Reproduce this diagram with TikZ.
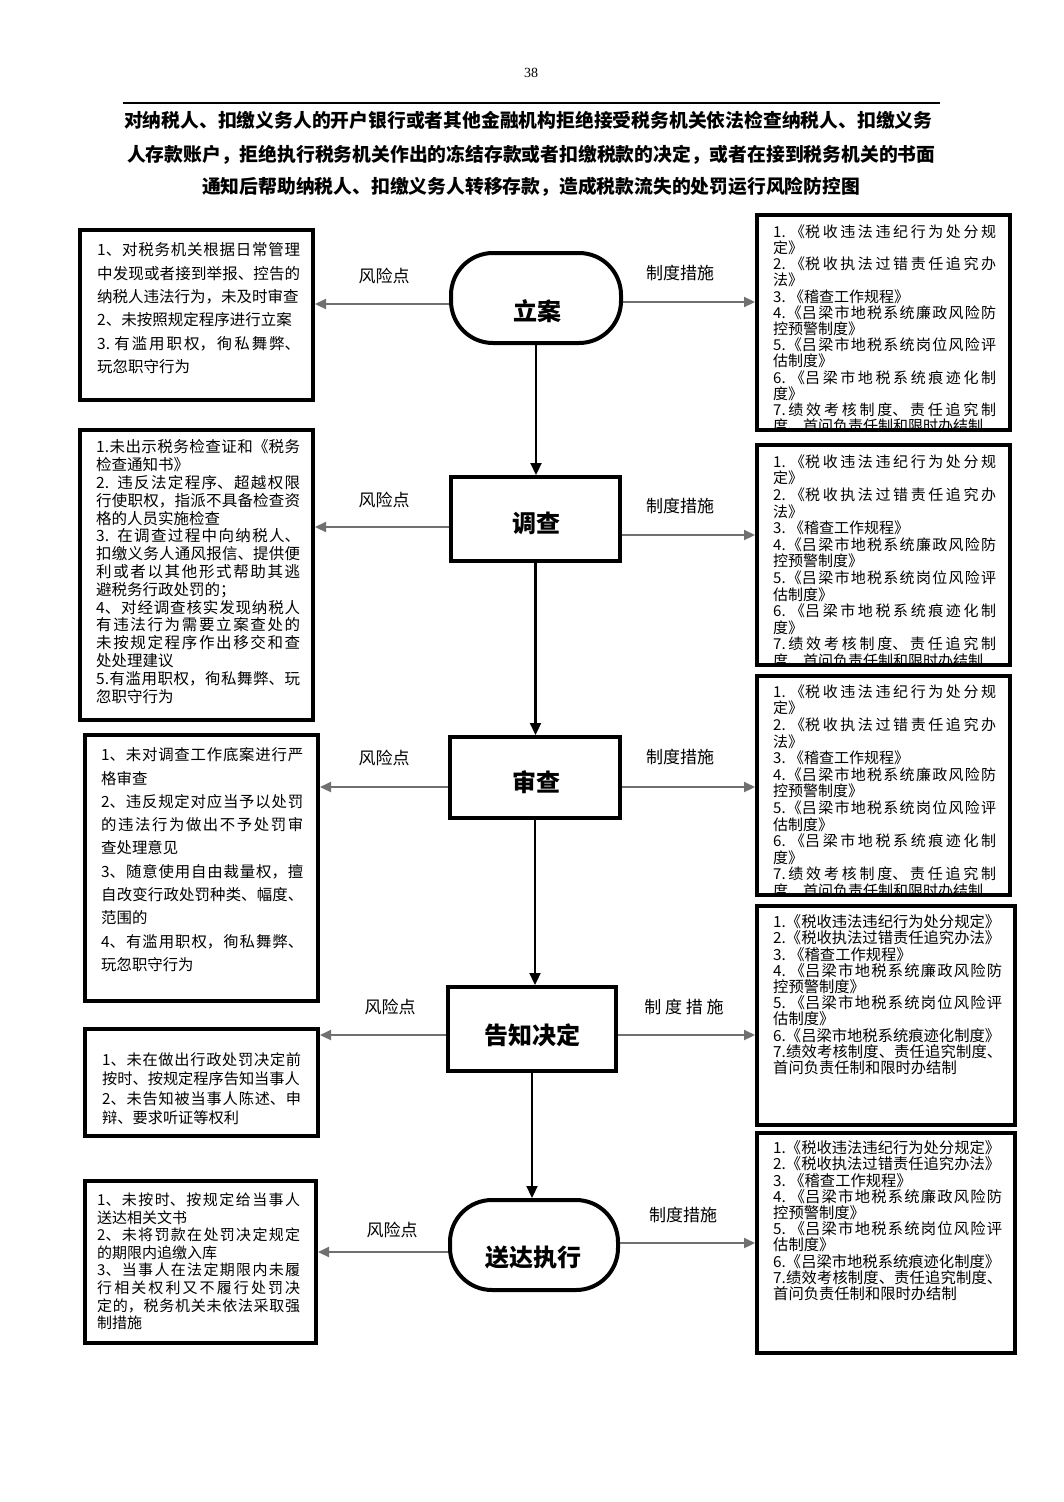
\documentclass[tikz,border=0pt]{standalone}
\usepackage{fontspec}
\setmainfont{Liberation Serif}
\newfontfamily\cjk{Noto Sans CJK SC}
\usetikzlibrary{arrows.meta}
\XeTeXlinebreaklocale "zh"
\XeTeXlinebreakskip=0pt plus 4pt minus 0.5pt
\setlength{\parindent}{0pt}
\tolerance=9000
\lineskiplimit=-20pt
\definecolor{agray}{HTML}{707070}
\begin{document}
\begin{tikzpicture}[x=1pt,y=-1pt,
  ttl/.style={inner sep=0pt,font=\cjk\bfseries\fontsize{18.8pt}{22pt}\selectfont},
  frame/.style={draw=black,line width=4pt,fill=white,inner sep=0pt,outer sep=2pt},
  stad/.style={frame,rounded corners=42pt},
  ctext/.style={inner sep=0pt,font=\cjk\bfseries\fontsize{24pt}{28pt}\selectfont},
  lab/.style={inner sep=0pt,font=\cjk\fontsize{17pt}{20pt}\selectfont},
  btext/.style={anchor=north west,inner sep=0pt,align=justify,text width=#1},
  garrow/.style={draw=agray,line width=2.2pt,-{Triangle[length=11pt,width=10pt]}},
  varrow/.style={draw=black,line width=2.2pt,-{Triangle[length=12pt,width=11pt]}}
]
\useasboundingbox[fill=white] (0,0) rectangle (1063,1502);

% header
\node[inner sep=0pt,font=\fontsize{14pt}{16pt}\selectfont] (pg) at (531,73) {38};
\coordinate (rl) at (123,103);
\coordinate (rr) at (940,103);
\draw[line width=1.6pt] (rl) -- (rr);
\node[ttl] (t1) at (531,120) {\hbox to 814pt{对纳税人、扣缴义务人的开户银行或者其他金融机构拒绝接受税务机关依法检查纳税人、扣缴义务}};
\node[ttl] (t2) at (532,155) {\hbox to 810pt{人存款账户，拒绝执行税务机关作出的冻结存款或者扣缴税款的决定，或者在接到税务机关的书面}};
\node[ttl] (t3) at (531,187) {通知后帮助纳税人、扣缴义务人转移存款，造成税款流失的处罚运行风险防控图};

% centre column
\node[stad,minimum width=170pt,minimum height=90pt] (C1) at (536,298) {};
\node[ctext] (C1t) at (537,311) {立案};
\node[frame,minimum width=169pt,minimum height=84pt] (C2) at (535.5,519) {};
\node[ctext] (C2t) at (536,523) {调查};
\node[frame,minimum width=170pt,minimum height=81pt] (C3) at (535,777.5) {};
\node[ctext] (C3t) at (536,782) {审查};
\node[frame,minimum width=168pt,minimum height=84pt] (C4) at (532,1029) {};
\node[ctext] (C4t) at (532,1035) {告知决定};
\node[stad,minimum width=168pt,minimum height=90pt] (C5) at (534,1245) {};
\node[ctext] (C5t) at (533,1257) {送达执行};

\draw[varrow] (C1.south) -- (C1.south |- C2.north);
\draw[varrow] (C2.south) -- (C2.south |- C3.north);
\draw[varrow] (C3.south) -- (C3.south |- C4.north);
\draw[varrow] (C4.south) -- (C4.south |- C5.north);

% left boxes
\node[frame,minimum width=233pt,minimum height=170pt] (L1) at (196.5,315) {};
\node[btext=203pt,font=\cjk\fontsize{15.5pt}{23.4pt}\selectfont] (L1t) at (97,242.5) {1、对税务机关根据日常管理\linebreak
中发现或者接到举报、控告的\linebreak
纳税人违法行为，未及时审查\\
2、未按照规定程序进行立案\\
3.\ 有滥用职权，徇私舞弊、\linebreak
玩忽职守行为};

\node[frame,minimum width=233pt,minimum height=290pt] (L2) at (196.5,575) {};
\node[btext=204pt,font=\cjk\fontsize{15.5pt}{17.8pt}\selectfont] (L2t) at (96,439.5) {1.未出示税务检查证和《税务\linebreak
检查通知书》\\
2.\ \ 违反法定程序、超越权限\linebreak
行使职权，指派不具备检查资\linebreak
格的人员实施检查\\
3.\ \ 在调查过程中向纳税人、\linebreak
扣缴义务人通风报信、提供便\linebreak
利或者以其他形式帮助其逃\linebreak
避税务行政处罚的；\\
4、对经调查核实发现纳税人\linebreak
有违法行为需要立案查处的\linebreak
未按规定程序作出移交和查\linebreak
处处理建议\\
5.有滥用职权，徇私舞弊、玩\linebreak
忽职守行为};

\node[frame,minimum width=233pt,minimum height=266pt] (L3) at (201.5,868) {};
\node[btext=202pt,font=\cjk\fontsize{15.4pt}{23.3pt}\selectfont] (L3t) at (101,747.5) {1、未对调查工作底案进行严\linebreak
格审查\\
2、违反规定对应当予以处罚\linebreak
的违法行为做出不予处罚审\linebreak
查处理意见\\
3、随意使用自由裁量权，擅\linebreak
自改变行政处罚种类、幅度、\linebreak
范围的\\
4、有滥用职权，徇私舞弊、\linebreak
玩忽职守行为};

\node[frame,minimum width=233pt,minimum height=107pt] (L4) at (201.5,1082.5) {};
\node[btext=199pt,font=\cjk\fontsize{15.2pt}{19.3pt}\selectfont] (L4t) at (102,1052.5) {1、未在做出行政处罚决定前\linebreak
按时、按规定程序告知当事人\\
2、未告知被当事人陈述、申\linebreak
辩、要求听证等权利};

\node[frame,minimum width=231pt,minimum height=162pt] (L5) at (200.5,1262) {};
\node[btext=203pt,font=\cjk\fontsize{15pt}{17.6pt}\selectfont] (L5t) at (97,1192.5) {1、未按时、按规定给当事人\linebreak
送达相关文书\\
2、未将罚款在处罚决定规定\linebreak
的期限内追缴入库\\
3、当事人在法定期限内未履\linebreak
行相关权利又不履行处罚决\linebreak
定的，税务机关未依法采取强\linebreak
制措施};

% right boxes
\node[frame,minimum width=253pt,minimum height=215pt] (R1) at (883.5,322.5) {};
\node[frame,minimum width=253pt,minimum height=220pt] (R2) at (883.5,555) {};
\node[frame,minimum width=253pt,minimum height=219pt] (R3) at (883.5,785.5) {};
\node[frame,minimum width=258pt,minimum height=219pt] (R4) at (886,1015.5) {};
\node[frame,minimum width=258pt,minimum height=220pt] (R5) at (886,1243) {};

\newcommand{\rulesA}{1.\ 《税收违法违纪行为处分规\linebreak
定》\\
2.\ 《税收执法过错责任追究办\linebreak
法》\\
3.\ 《稽查工作规程》\\
4.《吕梁市地税系统廉政风险防\linebreak
控预警制度》\\
5.《吕梁市地税系统岗位风险评\linebreak
估制度》\\
6.\ 《吕梁市地税系统痕迹化制\linebreak
度》\\
7.绩效考核制度、责任追究制\linebreak
度、首问负责任制和限时办结制}
\newcommand{\rulesB}{1.《税收违法违纪行为处分规定》\\
2.《税收执法过错责任追究办法》\\
3.\ 《稽查工作规程》\\
4.\ 《吕梁市地税系统廉政风险防\linebreak
控预警制度》\\
5.\ 《吕梁市地税系统岗位风险评\linebreak
估制度》\\
6.《吕梁市地税系统痕迹化制度》\\
7.绩效考核制度、责任追究制度、\linebreak
首问负责任制和限时办结制}

\begin{scope}
\clip ([xshift=4pt,yshift=-4pt]R1.north west) rectangle ([xshift=-4pt,yshift=4pt]R1.south east);
\node[btext=223pt,font=\cjk\fontsize{15pt}{16.2pt}\selectfont] (R1t) at (773,224.5) {\rulesA};
\end{scope}
\begin{scope}
\clip ([xshift=4pt,yshift=-4pt]R2.north west) rectangle ([xshift=-4pt,yshift=4pt]R2.south east);
\node[btext=223pt,font=\cjk\fontsize{15pt}{16.6pt}\selectfont] (R2t) at (773,454.5) {\rulesA};
\end{scope}
\begin{scope}
\clip ([xshift=4pt,yshift=-4pt]R3.north west) rectangle ([xshift=-4pt,yshift=4pt]R3.south east);
\node[btext=223pt,font=\cjk\fontsize{15pt}{16.6pt}\selectfont] (R3t) at (773,684.5) {\rulesA};
\end{scope}
\node[btext=229pt,font=\cjk\fontsize{15.3pt}{16.2pt}\selectfont] (R4t) at (773,914.5) {\rulesB};
\node[btext=229pt,font=\cjk\fontsize{15.3pt}{16.2pt}\selectfont] (R5t) at (773,1140.5) {\rulesB};

% horizontal connectors
\draw[garrow] ([yshift=-6pt]C1.west) -- ([yshift=-6pt]C1.west -| L1.east);
\draw[garrow] ([yshift=-4pt]C1.east) -- ([yshift=-4pt]C1.east -| R1.west);
\draw[garrow] ([yshift=-8pt]C2.west) -- ([yshift=-8pt]C2.west -| L2.east);
\draw[garrow] ([yshift=-16pt]C2.east) -- ([yshift=-16pt]C2.east -| R2.west);
\draw[garrow] ([yshift=-9.5pt]C3.west) -- ([yshift=-9.5pt]C3.west -| L3.east);
\draw[garrow] ([yshift=-9.5pt]C3.east) -- ([yshift=-9.5pt]C3.east -| R3.west);
\draw[garrow] ([yshift=-6pt]C4.west) -- ([yshift=-6pt]C4.west -| L4.east);
\draw[garrow] ([yshift=-6pt]C4.east) -- ([yshift=-6pt]C4.east -| R4.west);
\draw[garrow] ([yshift=-7pt]C5.west) -- ([yshift=-7pt]C5.west -| L5.east);
\draw[garrow] ([yshift=2pt]C5.east) -- ([yshift=2pt]C5.east -| R5.west);

% labels
\node[lab] (k1) at (384,276) {风险点};
\node[lab] (m1) at (680,273) {制度措施};
\node[lab] (k2) at (384,500) {风险点};
\node[lab] (m2) at (680,506) {制度措施};
\node[lab] (k3) at (384,758) {风险点};
\node[lab] (m3) at (680,757) {制度措施};
\node[lab] (k4) at (390,1007) {风险点};
\node[lab] (m4) at (684,1007) {制 度 措 施};
\node[lab] (k5) at (392,1230) {风险点};
\node[lab] (m5) at (683,1215) {制度措施};
\end{tikzpicture}
\end{document}
